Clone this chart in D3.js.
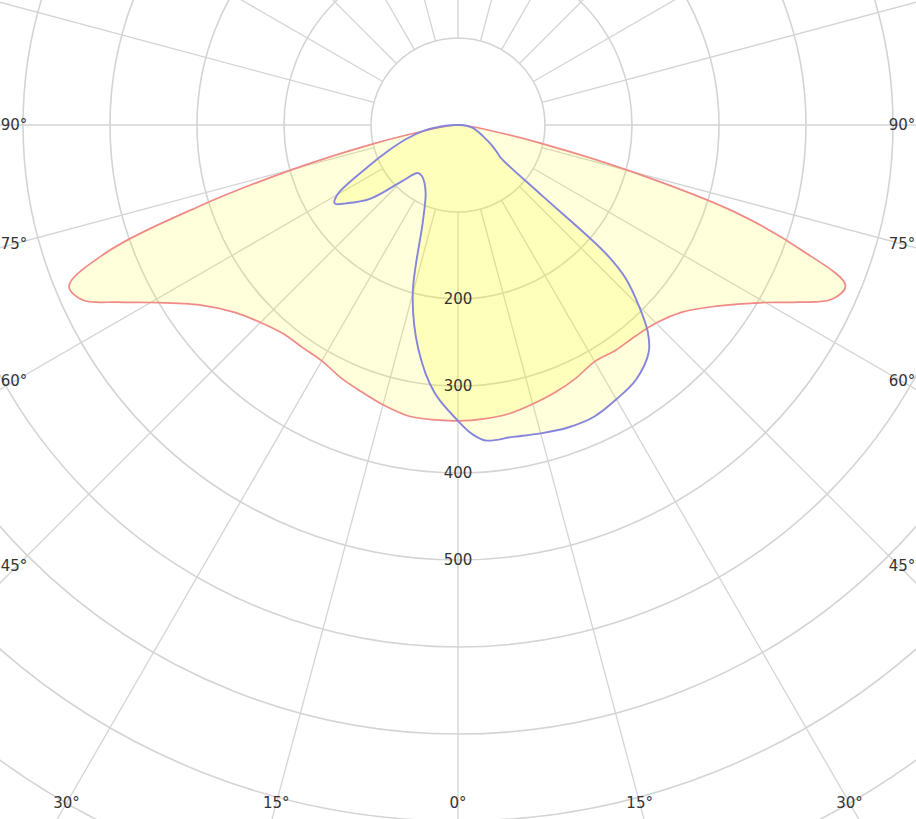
<!DOCTYPE html>
<html>
<head>
<meta charset="utf-8">
<script src="https://cdn.jsdelivr.net/npm/d3@7"></script>
<style>
  html, body { margin: 0; padding: 0; background: #fff; }
  svg { display: block; }
  text { font-family: "DejaVu Sans", Verdana, sans-serif; fill: #333; }
</style>
</head>
<body>
<svg id="chart" width="916" height="819"></svg>
<script>
// ---- data (gamma angle in degrees from nadir, intensity in cd) ----
const gammaRed = [-90,-85,-80,-77.5,-75,-72.5,-70,-67.5,-65,-62.5,-60,-55,-50,-45,-40,-35,-30,-25,-20,-15,-10,-5,0,
                  5,10,15,20,25,30,35,40,45,50,55,60,62.5,65,67.5,70,72.5,75,77.5,80,85,90];
const redValues = [0,10,40,100,195,315,432,484,476,441,408,361,335,321,313,312,313,320,326,333,339,340,340,
                   339,337,332,327,321,314,316,317,322,335,363,408,441,474,482,420,335,205,100,40,10,0];

const gammaBlue = [-90,-85,-80,-75,-70,-65,-60,-57.5,-55,-50,-45,-40,-35,-30,-25,-20,-15,-10,-5,0,
                   2.5,5,10,15,20,25,30,35,40,42.5,45,47.5,49,50,52.5,55,60,65,70,75,80,85,90];
const blueValues = [2,20,41,61,84,115,160,168,157,132,92,72,72,77,88,118,201,262,309,340,
                    355,364,364,367,370,370,364,357,341,323,294,262,225,125,62,55,43,33,26,21,16,10,2];

const ringValues = [100,200,300,400,500,600,700,800,900,1000,1100];
const ringLabels = [200,300,400,500];
const spokeAngles = d3.range(0, 360, 15);
const angleLabels = [-90,-75,-60,-45,-30,-15,0,15,30,45,60,75,90];

// ---- layout ----
const W = 916, H = 819;
const cx = 458, cy = 125;
const r = d3.scaleLinear().domain([0, 100]).range([0, 87]);
const toRad = g => Math.PI - g * Math.PI / 180; // d3 radial angle (0 = up, clockwise)

const svg = d3.select("#chart");
svg.append("rect").attr("width", W).attr("height", H).attr("fill", "#fff");
const g = svg.append("g").attr("transform", `translate(${cx},${cy})`);

// rings
g.append("g").selectAll("circle").data(ringValues).join("circle")
  .attr("r", d => r(d)).attr("fill", "none")
  .attr("stroke", "#d4d4d4").attr("stroke-width", 1.6);

// spokes
g.append("g").selectAll("line").data(spokeAngles).join("line")
  .attr("x1", d => r(100) * Math.sin(d * Math.PI / 180))
  .attr("y1", d => r(100) * Math.cos(d * Math.PI / 180))
  .attr("x2", d => r(1200) * Math.sin(d * Math.PI / 180))
  .attr("y2", d => r(1200) * Math.cos(d * Math.PI / 180))
  .attr("stroke", "#d4d4d4").attr("stroke-width", 1.3);

// curves
const radial = d3.lineRadial().curve(d3.curveCatmullRomClosed.alpha(0.5));
const redPts = gammaRed.map((a, i) => [toRad(a), r(redValues[i])]);
const bluePts = gammaBlue.map((a, i) => [toRad(a), r(blueValues[i])]);

const fillCol = "rgba(255,255,0,0.14)";
g.append("path").attr("d", radial(redPts)).attr("fill", fillCol).attr("stroke", "none");
g.append("path").attr("d", radial(bluePts)).attr("fill", fillCol).attr("stroke", "none");
g.append("path").attr("d", radial(redPts)).attr("fill", "none")
  .attr("stroke", "#ef8a86").attr("stroke-width", 1.7).attr("stroke-linejoin", "round");
g.append("path").attr("d", radial(bluePts)).attr("fill", "none")
  .attr("stroke", "#8585dc").attr("stroke-width", 1.9).attr("stroke-linejoin", "round");

// ring labels
g.append("g").selectAll("text").data(ringLabels).join("text")
  .attr("x", 0).attr("y", d => r(d))
  .attr("text-anchor", "middle").attr("dominant-baseline", "central")
  .attr("font-size", 15).text(d => d);

// angle labels at the edge of the visible area
const left = 14, right = 902, bottom = 803;
svg.append("g").selectAll("text").data(angleLabels).join("text")
  .each(function(a) {
    const t = a * Math.PI / 180;
    const dx = Math.sin(t), dy = Math.cos(t);
    let tt = Infinity;
    if (dy > 1e-6) tt = Math.min(tt, (bottom - cy) / dy);
    if (dx > 1e-6) tt = Math.min(tt, (right - cx) / dx);
    if (dx < -1e-6) tt = Math.min(tt, (left - cx) / dx);
    d3.select(this).attr("x", cx + tt * dx).attr("y", cy + tt * dy - (Math.abs(a) === 45 ? 3 : 0));
  })
  .attr("text-anchor", "middle").attr("dominant-baseline", "central")
  .attr("font-size", 15).text(a => Math.abs(a) + "°");
</script>
</body>
</html>
